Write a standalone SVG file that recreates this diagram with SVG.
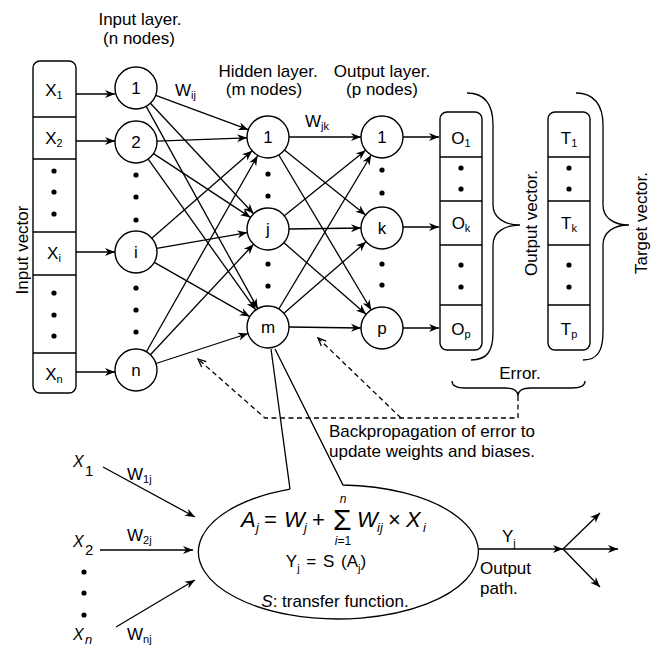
<svg xmlns="http://www.w3.org/2000/svg" width="658" height="646" viewBox="0 0 658 646">
<style>
text { font-family: "Liberation Sans", Arial, Helvetica, sans-serif; fill:#000; font-size:17px; }
.c { text-anchor: middle; }
.sub { font-size: 11px; }
.it { font-style: italic; }
.f22 { font-size: 22px; }
.f13 { font-size: 13px; }
.f12 { font-size: 12px; }
.f16 { font-size: 16px; }
.f15 { font-size: 15px; }
.sig { font-size: 30px; }
.node circle { fill:#fff; stroke:#000; stroke-width:1.4; }
.box { fill:#fff; stroke:#000; stroke-width:1.4; }
.ln { stroke:#000; stroke-width:1.3; fill:none; }
.ar { marker-end:url(#arr); }
.dash { stroke-dasharray:5,3.5; }
.dot { fill:#000; }
</style>
<defs>
<marker id="arr" markerUnits="userSpaceOnUse" markerWidth="11" markerHeight="9" refX="10" refY="4.5" orient="auto">
<path d="M0,0.5 L10,4.5 L0,8.5 L3,4.5 z" fill="#000"/>
</marker>
<marker id="darr" markerUnits="userSpaceOnUse" markerWidth="10" markerHeight="9" refX="9" refY="4.5" orient="auto">
<path d="M1,1 L9,4.5 L1,8" fill="none" stroke="#000" stroke-width="1.3"/>
</marker>
</defs>
<rect width="658" height="646" fill="#fff"/>

<g id="headers">
<text class="c" x="140" y="25">Input layer.</text>
<text class="c" x="139" y="44">(n nodes)</text>
<text class="c" x="268" y="77">Hidden layer.</text>
<text class="c" x="264" y="95">(m nodes)</text>
<text class="c" x="382" y="77">Output layer.</text>
<text class="c" x="382" y="95">(p nodes)</text>
<text x="175" y="96">W<tspan class="sub" dy="3">ij</tspan></text>
<text x="305" y="127">W<tspan class="sub" dy="3">jk</tspan></text>
</g>

<g id="connectors">
<path class="ln ar" d="M76,94H115"/>
<path class="ln ar" d="M76,141H115"/>
<path class="ln ar" d="M76,252H115"/>
<path class="ln ar" d="M76,372H115"/>
<path class="ln ar" d="M155.7,95.3L248.3,129.7"/>
<path class="ln ar" d="M150.4,103.3L253.6,213.7"/>
<path class="ln ar" d="M146.2,106.4L257.8,308.6"/>
<path class="ln ar" d="M157,141.2L247,137.8"/>
<path class="ln ar" d="M153.5,153.6L250.5,217.4"/>
<path class="ln ar" d="M148.2,159.1L255.8,309.9"/>
<path class="ln ar" d="M151.8,238.2L252.2,150.8"/>
<path class="ln ar" d="M156.7,248.4L247.3,232.6"/>
<path class="ln ar" d="M154.3,262.4L249.7,316.6"/>
<path class="ln ar" d="M146.4,351.7L257.6,155.7"/>
<path class="ln ar" d="M150.4,354.7L253.6,244.3"/>
<path class="ln ar" d="M156,363.5L248,333.5"/>
<path class="ln ar" d="M289,137H361"/>
<path class="ln ar" d="M284.4,150.1L365.6,214.9"/>
<path class="ln ar" d="M278.8,155L371.2,310"/>
<path class="ln ar" d="M284.3,215.8L365.7,150.2"/>
<path class="ln ar" d="M289,229L361,228"/>
<path class="ln ar" d="M283.9,242.8L366.1,314.2"/>
<path class="ln ar" d="M278.8,309L371.2,155"/>
<path class="ln ar" d="M283.9,313.2L366.1,241.8"/>
<path class="ln ar" d="M289,327L361,328"/>
<path class="ln ar" d="M403,137H439"/>
<path class="ln ar" d="M403,227H439"/>
<path class="ln ar" d="M403,328H439"/>
<path class="ln dash" d="M518,396V418H265L198,359" marker-end="url(#darr)"/>
<path class="ln dash" d="M401,418L318,338" marker-end="url(#darr)"/>
<path class="ln ar" d="M103,467L195,517"/>
<path class="ln ar" d="M100,550H193"/>
<path class="ln ar" d="M116,627L195,580"/>
<path class="ln ar" d="M478,549H563"/>
<path class="ln ar" d="M563,549L600,513"/>
<path class="ln ar" d="M563,549H618"/>
<path class="ln ar" d="M563,549L600,587"/>
</g>

<g id="input-vector">
<rect class="box" x="33" y="61" width="43" height="332" rx="7"/>
<path class="ln" d="M33,117H76M33,159H76M33,232H76M33,275H76M33,353H76"/>
<text class="c" x="54" y="96">X<tspan class="sub" dy="3">1</tspan></text>
<text class="c" x="54" y="144">X<tspan class="sub" dy="3">2</tspan></text>
<text class="c" x="54" y="259">X<tspan class="sub" dy="3">i</tspan></text>
<text class="c" x="54" y="380">X<tspan class="sub" dy="3">n</tspan></text>
<circle class="dot" cx="54" cy="171" r="2.6"/>
<circle class="dot" cx="54" cy="192" r="2.6"/>
<circle class="dot" cx="54" cy="214" r="2.6"/>
<circle class="dot" cx="54" cy="293" r="2.6"/>
<circle class="dot" cx="54" cy="315" r="2.6"/>
<circle class="dot" cx="54" cy="336" r="2.6"/>
<text class="c" transform="translate(28,250) rotate(-90)">Input vector</text>
</g>

<g id="input-layer">
<g id="in-1" class="node"><circle cx="136" cy="88" r="21"/><text class="c" x="136" y="94">1</text></g>
<g id="in-2" class="node"><circle cx="136" cy="142" r="21"/><text class="c" x="136" y="148">2</text></g>
<g id="in-i" class="node"><circle cx="136" cy="252" r="21"/><text class="c" x="136" y="258">i</text></g>
<g id="in-n" class="node"><circle cx="136" cy="370" r="21"/><text class="c" x="136" y="376">n</text></g>
<circle class="dot" cx="136" cy="175" r="2.6"/>
<circle class="dot" cx="136" cy="197" r="2.6"/>
<circle class="dot" cx="136" cy="220" r="2.6"/>
<circle class="dot" cx="136" cy="288" r="2.6"/>
<circle class="dot" cx="136" cy="310" r="2.6"/>
<circle class="dot" cx="136" cy="332" r="2.6"/>
</g>

<g id="hidden-layer">
<g id="hid-1" class="node"><circle cx="268" cy="137" r="21"/><text class="c" x="268" y="143">1</text></g>
<g id="hid-j" class="node"><circle cx="268" cy="229" r="21"/><text class="c" x="268" y="235">j</text></g>
<g id="hid-m" class="node"><circle cx="268" cy="327" r="21"/><text class="c" x="268" y="333">m</text></g>
<circle class="dot" cx="268" cy="174" r="2.6"/>
<circle class="dot" cx="268" cy="196" r="2.6"/>
<circle class="dot" cx="268" cy="264" r="2.6"/>
<circle class="dot" cx="268" cy="286" r="2.6"/>
</g>

<g id="output-layer">
<g id="out-1" class="node"><circle cx="382" cy="137" r="21"/><text class="c" x="382" y="143">1</text></g>
<g id="out-k" class="node"><circle cx="382" cy="228" r="21"/><text class="c" x="382" y="234">k</text></g>
<g id="out-p" class="node"><circle cx="382" cy="328" r="21"/><text class="c" x="382" y="334">p</text></g>
<circle class="dot" cx="382" cy="170" r="2.6"/>
<circle class="dot" cx="382" cy="193" r="2.6"/>
<circle class="dot" cx="382" cy="264" r="2.6"/>
<circle class="dot" cx="382" cy="285" r="2.6"/>
</g>

<g id="output-vector">
<rect class="box" x="440" y="112" width="42" height="238" rx="7"/>
<path class="ln" d="M440,157H482M440,201H482M440,245H482M440,305H482"/>
<text class="c" x="461" y="144">O<tspan class="sub" dy="3">1</tspan></text>
<text class="c" x="461" y="229">O<tspan class="sub" dy="3">k</tspan></text>
<text class="c" x="461" y="335">O<tspan class="sub" dy="3">p</tspan></text>
<circle class="dot" cx="461" cy="168" r="2.6"/>
<circle class="dot" cx="461" cy="189" r="2.6"/>
<circle class="dot" cx="461" cy="265" r="2.6"/>
<circle class="dot" cx="461" cy="287" r="2.6"/>
<path class="ln" d="M467,93C485,93 493,105 493,125V205C493,218 505,225 520,225C505,225 493,232 493,245V332C493,350 488,360 471,360"/>
<text class="c" transform="translate(537,223) rotate(-90)">Output vector.</text>
</g>

<g id="target-vector">
<rect class="box" x="548" y="112" width="42" height="238" rx="7"/>
<path class="ln" d="M548,157H590M548,201H590M548,245H590M548,305H590"/>
<text class="c" x="569" y="144">T<tspan class="sub" dy="3">1</tspan></text>
<text class="c" x="569" y="229">T<tspan class="sub" dy="3">k</tspan></text>
<text class="c" x="569" y="335">T<tspan class="sub" dy="3">p</tspan></text>
<circle class="dot" cx="569" cy="168" r="2.6"/>
<circle class="dot" cx="569" cy="189" r="2.6"/>
<circle class="dot" cx="569" cy="265" r="2.6"/>
<circle class="dot" cx="569" cy="287" r="2.6"/>
<path class="ln" d="M576,93C594,93 603,105 603,125V205C603,218 614,225 629,225C614,225 603,232 603,245V332C603,350 598,360 583,360"/>
<text class="c" transform="translate(647,223) rotate(-90)">Target vector.</text>
</g>

<g id="error">
<text class="c" x="520" y="379">Error.</text>
<path class="ln" d="M452,381C452,386 456,388 465,388H505C512,388 518,390 518,396C518,390 524,388 531,388H572C581,388 585,386 585,381"/>
<text x="329" y="437">Backpropagation of error to</text>
<text x="329" y="457">update weights and biases.</text>
</g>

<g id="neuron-detail">
<path class="ln" d="M290,489.1A140,67 0 1 0 343,485L275,349M290,489.1L271,349"/>
<text class="it f22" x="241" y="527">A</text>
<text class="it f13" x="256" y="532">j</text>
<text class="f22" x="264" y="527">=</text>
<text class="it f22" x="284" y="527">W</text>
<text class="it f13" x="304" y="532">j</text>
<text class="f22" x="312" y="527">+</text>
<text class="sig" x="333" y="530">Σ</text>
<text class="it c f12" x="343" y="503">n</text>
<text class="c f12" x="343" y="545"><tspan font-style="italic">i</tspan>=1</text>
<text class="it f22" x="357" y="527">W</text>
<text class="it f13" x="377" y="532">ij</text>
<text class="f22" x="388" y="527">×</text>
<text class="it f22" x="406" y="527">X</text>
<text class="it f13" x="423" y="532">i</text>
<text class="c" x="326" y="567" style="word-spacing:2px">Y<tspan class="sub" dy="5">j</tspan><tspan dy="-5"> = S (A</tspan><tspan class="sub" dy="5">j</tspan><tspan dy="-5">)</tspan></text>
<text class="c" x="335" y="607"><tspan font-style="italic">S</tspan>: transfer function.</text>
</g>

<g id="neuron-inputs">
<text class="it f16" x="73" y="467">X</text><text class="f15" x="85" y="476">1</text>
<text class="it f16" x="73" y="547">X</text><text class="f15" x="85" y="555">2</text>
<text class="it f16" x="73" y="640">X</text><text class="it f13" x="85" y="644">n</text>
<circle class="dot" cx="84" cy="572" r="2.6"/>
<circle class="dot" cx="84" cy="593" r="2.6"/>
<circle class="dot" cx="84" cy="615" r="2.6"/>
<text x="127" y="480">W<tspan class="sub" dy="3">1j</tspan></text>
<text x="127" y="541">W<tspan class="sub" dy="3">2j</tspan></text>
<text x="127" y="640">W<tspan class="sub" dy="3">nj</tspan></text>
</g>

<g id="output-path">
<text x="502" y="542">Y<tspan class="sub" dy="5">j</tspan></text>
<text x="480" y="574">Output</text>
<text x="480" y="594">path.</text>
</g>
</svg>
